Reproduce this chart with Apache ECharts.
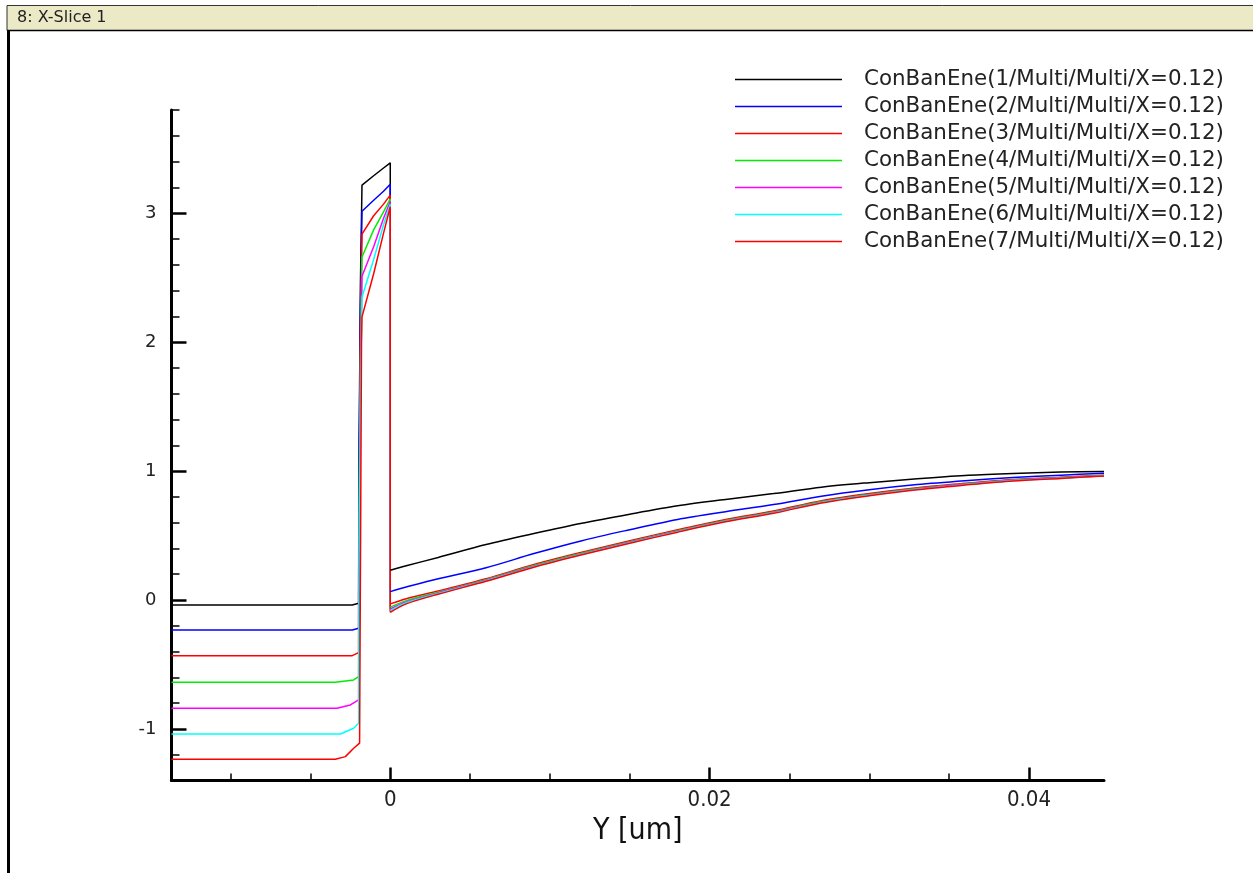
<!DOCTYPE html>
<html>
<head>
<meta charset="utf-8">
<script src="https://cdn.jsdelivr.net/npm/echarts@6/dist/echarts.min.js"></script>
<style>
html,body{margin:0;padding:0;background:#fff;}
#chart{width:1253px;height:873px;}
</style>
</head>
<body>
<div id="chart"></div>
<script>
// ---- data (Y in um, energy in eV) ----
const seriesNames = [
  'ConBanEne(1/Multi/Multi/X=0.12)',
  'ConBanEne(2/Multi/Multi/X=0.12)',
  'ConBanEne(3/Multi/Multi/X=0.12)',
  'ConBanEne(4/Multi/Multi/X=0.12)',
  'ConBanEne(5/Multi/Multi/X=0.12)',
  'ConBanEne(6/Multi/Multi/X=0.12)',
  'ConBanEne(7/Multi/Multi/X=0.12)'
];
const seriesColors = ['#000000', '#0000ff', '#ff0000', '#00ee00', '#ff00ff', '#00ffff', '#ff0000'];

// left region (substrate side, flat part + bend + jump into barrier) as [Y, E]
const left1 = [[-0.0137,-0.039],[-0.00238,-0.039],[-0.00198,-0.026],[-0.00197,0.907],[-0.00187,2.44],[-0.00177,3.217]];
const left2 = [[-0.0137,-0.233],[-0.00238,-0.233],[-0.00198,-0.22],[-0.00197,0.698],[-0.00187,2.25],[-0.00177,3.015]];
const left3 = [[-0.0137,-0.432],[-0.00238,-0.432],[-0.00198,-0.408],[-0.00197,0.504],[-0.00187,2.04],[-0.00177,2.837]];
const left4 = [[-0.0137,-0.638],[-0.00344,-0.638],[-0.00229,-0.62],[-0.00198,-0.595],[-0.00197,0.341],[-0.00187,1.88],[-0.00177,2.66]];
const left5 = [[-0.0137,-0.84],[-0.00334,-0.84],[-0.0025,-0.814],[-0.00198,-0.775],[-0.00197,0.155],[-0.00187,1.705],[-0.00177,2.51]];
const left6 = [[-0.0137,-1.039],[-0.00313,-1.039],[-0.00229,-0.995],[-0.00198,-0.956],[-0.00197,-0.023],[-0.00187,1.527],[-0.00177,2.35]];
const left7 = [[-0.0137,-1.235],[-0.00344,-1.235],[-0.00281,-1.215],[-0.00229,-1.15],[-0.00192,-1.11],[-0.00180,2.0],[-0.00177,2.196]];

// barrier region
const barrierY = [-0.00177, -0.00104, -0.00042, 0];
const barrier1 = [3.217, 3.29, 3.35, 3.39];
const barrier2 = [3.015, 3.10, 3.17, 3.225];
const barrier3 = [2.837, 2.98, 3.07, 3.14];
const barrier4 = [2.66, 2.87, 3.01, 3.11];
const barrier5 = [2.51, 2.74, 2.96, 3.09];
const barrier6 = [2.35, 2.64, 2.91, 3.07];
const barrier7 = [2.196, 2.53, 2.845, 3.05];

// right region (channel side)
const rightY = [0, 0.001, 0.003, 0.006, 0.009, 0.012, 0.015, 0.018, 0.021, 0.024, 0.027, 0.030, 0.033, 0.036, 0.039, 0.042, 0.0447];
const right1 = [0.23, 0.265, 0.33, 0.43, 0.515, 0.595, 0.665, 0.73, 0.78, 0.825, 0.875, 0.91, 0.94, 0.965, 0.98, 0.992, 0.997];
const right2 = [0.065, 0.10, 0.165, 0.25, 0.36, 0.46, 0.545, 0.625, 0.685, 0.74, 0.805, 0.855, 0.895, 0.925, 0.95, 0.968, 0.982];
const right3 = [-0.03, 0.01, 0.07, 0.165, 0.275, 0.37, 0.46, 0.545, 0.625, 0.69, 0.77, 0.825, 0.87, 0.905, 0.935, 0.952, 0.968];
const right4 = [-0.055, -0.005, 0.06, 0.158, 0.267, 0.362, 0.452, 0.537, 0.617, 0.683, 0.763, 0.819, 0.865, 0.90, 0.931, 0.949, 0.966];
const right5 = [-0.07, -0.015, 0.055, 0.153, 0.262, 0.357, 0.447, 0.533, 0.613, 0.679, 0.759, 0.815, 0.861, 0.897, 0.928, 0.947, 0.964];
const right6 = [-0.082, -0.022, 0.05, 0.149, 0.258, 0.354, 0.444, 0.53, 0.61, 0.676, 0.756, 0.812, 0.858, 0.894, 0.926, 0.945, 0.963];
const right7 = [-0.095, -0.03, 0.045, 0.145, 0.254, 0.35, 0.44, 0.526, 0.606, 0.672, 0.752, 0.808, 0.855, 0.891, 0.923, 0.943, 0.962];

// axes
const xMin = -0.0137, xMax = 0.0447;
const yMin = -1.4, yMax = 3.8;
const xMajorTicks = [0, 0.02, 0.04];
const xMinorTicks = [-0.01, -0.005, 0.005, 0.01, 0.015, 0.025, 0.03, 0.035];
const yMajorTicks = [-1, 0, 1, 2, 3];
const yMinorTicks = [-1.2, -0.8, -0.6, -0.4, -0.2, 0.2, 0.4, 0.6, 0.8, 1.2, 1.4, 1.6, 1.8, 2.2, 2.4, 2.6, 2.8, 3.2, 3.4, 3.6, 3.8];
const xTitle = 'Y [um]';
const windowTitle = '8: X-Slice 1';

// ---- build ----
const lefts = [left1, left2, left3, left4, left5, left6, left7];
const barriers = [barrier1, barrier2, barrier3, barrier4, barrier5, barrier6, barrier7];
const rights = [right1, right2, right3, right4, right5, right6, right7];

function baseSeries(i, data, smooth) {
  return {
    name: seriesNames[i],
    type: 'line',
    data: data,
    symbol: 'none',
    showSymbol: false,
    smooth: smooth,
    lineStyle: { color: seriesColors[i], width: 1.5 },
    itemStyle: { color: seriesColors[i] },
    silent: true,
    animation: false
  };
}

const allSeries = [];
for (let i = 0; i < 7; i++) {
  const pts = lefts[i].slice(0, lefts[i].length - 1);
  barrierY.forEach((y, j) => pts.push([y, barriers[i][j]]));
  pts.push([rightY[0], rights[i][0]]);
  allSeries.push(baseSeries(i, pts, false));
}
for (let i = 0; i < 7; i++) {
  const pts = rightY.map((y, j) => [y, rights[i][j]]);
  allSeries.push(baseSeries(i, pts, 0.3));
}

const numFont = "'DejaVu Sans', 'Liberation Sans', sans-serif";
const narrowFont = "'Liberation Sans Narrow', 'DejaVu Sans Condensed', 'Liberation Sans', sans-serif";

const chart = echarts.init(document.getElementById('chart'), null, { renderer: 'canvas' });
const option = {
  animation: false,
  backgroundColor: '#ffffff',
  grid: { left: 171.5, right: 149, top: 110, bottom: 92.5, containLabel: false },
  legend: {
    orient: 'vertical',
    left: 735,
    top: 66,
    padding: 0,
    icon: 'rect',
    itemWidth: 107,
    itemHeight: 1.6,
    itemGap: 0,
    selectedMode: false,
    textStyle: { fontFamily: numFont, fontSize: 21.4, color: '#222', lineHeight: 27, padding: [0, 0, 0, 17] },
    data: seriesNames
  },
  xAxis: [
    {
      type: 'value', min: xMin, max: xMax,
      axisLine: { show: true, onZero: false, lineStyle: { color: '#000', width: 3 } },
      axisTick: { show: true, inside: true, length: 13, lineStyle: { color: '#000', width: 2.5 }, customValues: xMajorTicks },
      axisLabel: { show: true, customValues: xMajorTicks, margin: 9, color: '#222', fontFamily: narrowFont, fontSize: 22,
        formatter: v => (Math.abs(v) < 1e-12 ? '0' : String(Math.round(v * 1000) / 1000)) },
      splitLine: { show: false },
      name: xTitle, nameLocation: 'middle', nameGap: 33,
      nameTextStyle: { fontFamily: "'DejaVu Sans Condensed', 'DejaVu Sans', sans-serif", fontSize: 30, color: '#111' }
    },
    {
      type: 'value', min: xMin, max: xMax, position: 'bottom',
      axisLine: { show: false, onZero: false },
      axisTick: { show: true, inside: true, length: 7, lineStyle: { color: '#000', width: 1.5 }, customValues: xMinorTicks },
      axisLabel: { show: false },
      splitLine: { show: false }
    }
  ],
  yAxis: [
    {
      type: 'value', min: yMin, max: yMax,
      axisLine: { show: true, onZero: false, lineStyle: { color: '#000', width: 3 } },
      axisTick: { show: true, inside: true, length: 15, lineStyle: { color: '#000', width: 2.5 }, customValues: yMajorTicks },
      axisLabel: { show: true, customValues: yMajorTicks, margin: 15, color: '#222', fontFamily: numFont, fontSize: 18 },
      splitLine: { show: false }
    },
    {
      type: 'value', min: yMin, max: yMax, position: 'left',
      axisLine: { show: false, onZero: false },
      axisTick: { show: true, inside: true, length: 8, lineStyle: { color: '#000', width: 1.5 }, customValues: yMinorTicks },
      axisLabel: { show: false },
      splitLine: { show: false }
    }
  ],
  graphic: [
    { type: 'rect', shape: { x: 7, y: 5.5, width: 1250, height: 25 }, style: { fill: '#ebe9c6', stroke: '#333', lineWidth: 1 }, silent: true },
    { type: 'line', shape: { x1: 8.5, y1: 30, x2: 8.5, y2: 873 }, style: { stroke: '#000', lineWidth: 3 }, silent: true },
    { type: 'line', shape: { x1: 7, y1: 30.5, x2: 1253, y2: 30.5 }, style: { stroke: '#000', lineWidth: 1.5 }, silent: true },
    { type: 'text', left: 17, top: 10, style: { text: windowTitle, fontFamily: numFont, fontSize: 16, fill: '#222' }, silent: true }
  ],
  series: allSeries
};
chart.setOption(option);
</script>
</body>
</html>
